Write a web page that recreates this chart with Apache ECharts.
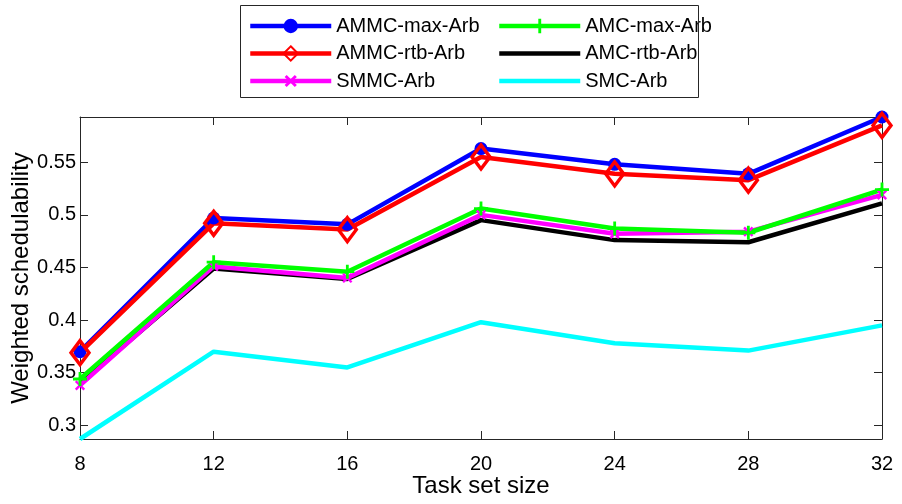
<!DOCTYPE html>
<html>
<head>
<meta charset="utf-8">
<script src="https://cdn.jsdelivr.net/npm/echarts@6/dist/echarts.min.js"></script>
<style>html,body{margin:0;padding:0;background:#fff;}#c{width:902px;height:504px;}</style>
</head>
<body>
<div id="c"></div>
<script>
const taskSizes = [8, 12, 16, 20, 24, 28, 32];
const ammcMax = [0.370, 0.497, 0.491, 0.563, 0.548, 0.539, 0.593];
const ammcRtb = [0.369, 0.492, 0.486, 0.555, 0.539, 0.533, 0.585];
const amcMax  = [0.344, 0.455, 0.446, 0.506, 0.487, 0.483, 0.524];
const amcRtb  = [0.340, 0.449, 0.439, 0.495, 0.476, 0.474, 0.511];
const smmc    = [0.338, 0.451, 0.440, 0.500, 0.482, 0.484, 0.519];
const smc     = [0.287, 0.370, 0.355, 0.398, 0.378, 0.371, 0.395];
const yTicks  = [0.3, 0.35, 0.4, 0.45, 0.5, 0.55];
const xTicks  = [8, 12, 16, 20, 24, 28, 32];

const FONT = 'Liberation Sans, Arial, Helvetica, sans-serif';
const pairs = arr => taskSizes.map((x, i) => [x, arr[i]]);
const plusPath = 'path://M4,0 H6 V4 H10 V6 H6 V10 H4 V6 H0 V4 H4 Z';

function mk(name, arr, color, symbol, size, opts) {
  return Object.assign({
    name: name, type: 'line', data: pairs(arr), clip: false,
    symbol: symbol, symbolSize: size, showSymbol: true,
    lineStyle: { color: color, width: 4.5 },
    itemStyle: { color: color },
    emphasis: { disabled: true },
    animation: false
  }, opts || {});
}

const series = [
  mk('AMMC-max-Arb', ammcMax, '#0000ff', 'circle', 13),
  mk('AMMC-rtb-Arb', ammcRtb, '#ff0000', 'diamond', [18, 24], {
    itemStyle: { color: 'rgba(255,255,255,0)', borderColor: '#ff0000', borderWidth: 3.5 }
  }),
  mk('AMC-rtb-Arb', amcRtb, '#000000', 'circle', 1, {
    showSymbol: false, itemStyle: { color: 'rgba(0,0,0,0)', borderWidth: 0 }
  }),
  mk('SMMC-Arb', smmc, '#ff00ff', plusPath, 12, { symbolRotate: 45 }),
  mk('AMC-max-Arb', amcMax, '#00ff00', plusPath, 14),
  mk('SMC-Arb', smc, '#00ffff', 'circle', 1, {
    showSymbol: false, itemStyle: { color: 'rgba(0,0,0,0)', borderWidth: 0 }
  })
];

const axisColor = '#262626';
const legendCommon = {
  orient: 'vertical', itemWidth: 81, itemHeight: 18, itemGap: 5.5, padding: 0,
  textStyle: { fontFamily: FONT, fontSize: 20, color: '#000', lineHeight: 22 },
  lineStyle: { width: 4.5 },
  selectedMode: false
};

const chart = echarts.init(document.getElementById('c'), null, { renderer: 'canvas' });
chart.setOption({
  backgroundColor: '#fff',
  animation: false,
  grid: { left: 80, right: 20, top: 117, bottom: 65, containLabel: false, outerBoundsMode: 'none' },
  legend: [
    Object.assign({ left: 248, top: 15, data: ['AMMC-max-Arb', 'AMMC-rtb-Arb', 'SMMC-Arb'] }, legendCommon),
    Object.assign({ left: 497, top: 15, data: ['AMC-max-Arb', 'AMC-rtb-Arb', 'SMC-Arb'] }, legendCommon)
  ],
  graphic: [{
    type: 'rect', shape: { x: 240.5, y: 5.5, width: 458, height: 92 },
    style: { fill: 'none', stroke: axisColor, lineWidth: 1 }, z: 100
  }],
  xAxis: [{
    type: 'value', min: 8, max: 32, interval: 4,
    name: 'Task set size', nameLocation: 'middle', nameGap: 35, nameMoveOverlap: false,
    nameTextStyle: { fontFamily: FONT, fontSize: 24, color: '#000' },
    axisLine: { show: true, lineStyle: { color: axisColor, width: 1 } },
    axisTick: { show: true, inside: true, length: 8, lineStyle: { color: axisColor } },
    axisLabel: { fontFamily: FONT, fontSize: 20, color: '#000', margin: 15,
      customValues: xTicks },
    splitLine: { show: false }
  }, {
    type: 'value', min: 8, max: 32, interval: 4, position: 'top',
    axisLine: { show: true, onZero: false, lineStyle: { color: axisColor, width: 1 } },
    axisTick: { show: true, inside: true, length: 8, lineStyle: { color: axisColor } },
    axisLabel: { show: false }, splitLine: { show: false }
  }],
  yAxis: [{
    type: 'value', min: 0.287, max: 0.593,
    name: 'Weighted schedulability', nameLocation: 'middle', nameGap: 47, nameMoveOverlap: false,
    nameTextStyle: { fontFamily: FONT, fontSize: 24, color: '#000' },
    axisLine: { show: true, onZero: false, lineStyle: { color: axisColor, width: 1 } },
    axisTick: { show: true, inside: true, length: 8, lineStyle: { color: axisColor },
      customValues: yTicks },
    axisLabel: { fontFamily: FONT, fontSize: 20, color: '#000', margin: 4,
      customValues: yTicks, formatter: v => String(+v.toFixed(2)) },
    splitLine: { show: false }
  }, {
    type: 'value', min: 0.287, max: 0.593, position: 'right',
    axisLine: { show: true, onZero: false, lineStyle: { color: axisColor, width: 1 } },
    axisTick: { show: true, inside: true, length: 8, lineStyle: { color: axisColor },
      customValues: yTicks },
    axisLabel: { show: false }, splitLine: { show: false }
  }],
  series: series
});
</script>
</body>
</html>
